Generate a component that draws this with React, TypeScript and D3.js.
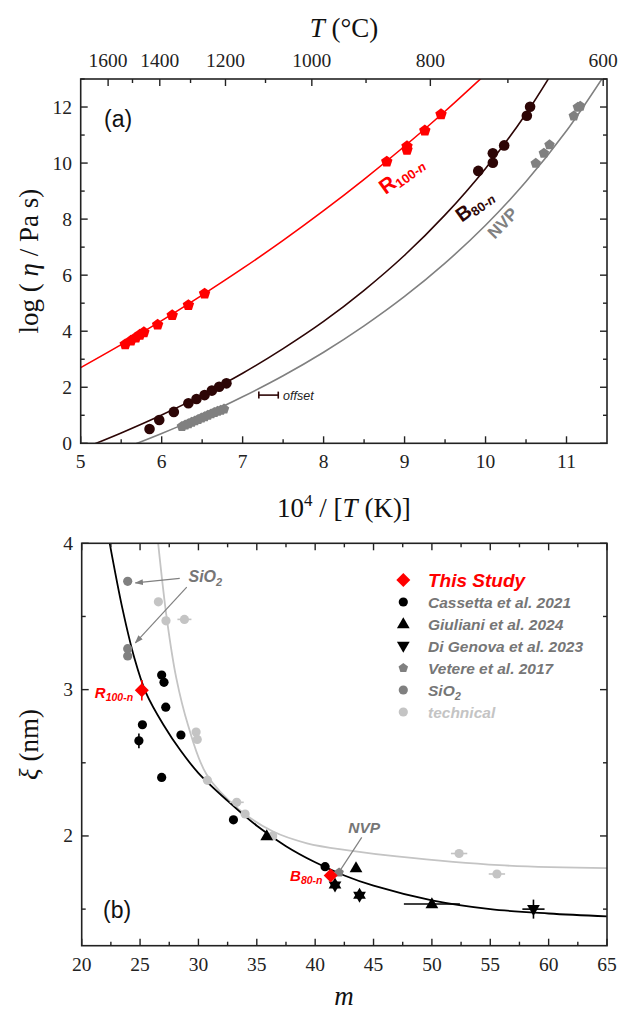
import React from 'react'
import * as d3 from 'd3'

// ---------- panel (a): log(eta) vs 10^4/T ----------
const redPts = [
  [5.55, 3.53], [5.62, 3.66], [5.68, 3.77], [5.73, 3.87], [5.78, 3.96],
  [5.95, 4.23], [6.13, 4.57], [6.33, 4.93], [6.53, 5.34],
  [8.78, 10.05], [9.03, 10.47], [9.03, 10.6], [9.25, 11.16], [9.45, 11.74],
]
const darkPts = [
  [5.85, 0.51], [5.97, 0.83], [6.15, 1.12], [6.33, 1.43], [6.43, 1.58],
  [6.53, 1.72], [6.62, 1.88], [6.71, 2.02], [6.8, 2.14],
  [9.91, 9.72], [10.09, 10.01], [10.09, 10.35], [10.23, 10.63], [10.51, 11.69], [10.55, 12.01],
]
const grayPts = [
  [6.25, 0.6], [6.29, 0.65], [6.33, 0.7], [6.37, 0.75], [6.41, 0.8], [6.45, 0.85], [6.49, 0.9],
  [6.53, 0.95], [6.57, 1.0], [6.61, 1.05], [6.65, 1.1], [6.69, 1.14], [6.73, 1.18], [6.77, 1.22],
  [10.62, 9.99], [10.72, 10.35], [10.79, 10.65], [11.09, 11.68], [11.14, 11.99], [11.17, 12.03],
]
// fitted curves
const redFit = [
  [5.0, 2.7], [5.5, 3.52], [6.0, 4.38], [6.5, 5.29], [7.0, 6.24], [7.5, 7.24], [8.0, 8.3],
  [8.5, 9.42], [9.0, 10.6], [9.5, 11.85], [10.0, 13.17],
]
const darkFit = [
  [5.0, -0.22], [5.5, 0.37], [6.0, 1.01], [6.5, 1.72], [7.0, 2.5], [7.5, 3.38], [8.0, 4.35],
  [8.5, 5.46], [9.0, 6.71], [9.5, 8.15], [10.0, 9.81], [10.5, 11.76], [11.0, 14.07],
]
const grayFit = [
  [5.5, -0.22], [6.0, 0.35], [6.5, 0.97], [7.0, 1.66], [7.5, 2.41], [8.0, 3.25], [8.5, 4.19],
  [9.0, 5.24], [9.5, 6.43], [10.0, 7.78], [10.5, 9.34], [11.0, 11.15], [11.5, 13.28],
]
const tempTicks = [1600, 1500, 1400, 1300, 1200, 1100, 1000, 900, 800, 700, 600]
const tempLabels = [1600, 1400, 1200, 1000, 800, 600]

// ---------- panel (b): xi vs m ----------
const studyPts = [[25.15, 2.995], [41.33, 1.73]]
const cassettaPts = [
  [26.85, 3.1], [27.05, 3.05], [27.2, 2.88], [25.2, 2.76], [24.9, 2.65],
  [28.5, 2.69], [26.85, 2.4], [33.0, 2.11], [40.85, 1.79],
]
const giulianiPts = [[35.85, 2.0], [41.7, 1.67], [43.5, 1.78], [43.8, 1.6], [50.0, 1.535]]
const diGenovaPts = [[41.7, 1.66], [43.8, 1.59], [58.7, 1.5]]
const veterePts = [[42.05, 1.75]]
const sio2Pts = [[23.94, 3.74], [23.94, 3.28], [23.94, 3.23]]
const technicalPts = [
  [26.57, 3.6], [27.22, 3.47], [28.8, 3.48], [29.8, 2.71], [29.9, 2.66], [30.77, 2.38],
  [33.28, 2.23], [34.0, 2.15], [36.36, 2.0], [52.33, 1.88], [55.57, 1.74],
]
// error bars: [m, xi, dm, dxi]
const errBars = [
  [25.15, 2.995, 0.3, 0.07], [24.9, 2.65, 0, 0.05], [50.0, 1.535, 2.4, 0],
  [58.7, 1.5, 0.95, 0.065], [28.8, 3.48, 0.6, 0], [33.28, 2.23, 0.6, 0],
  [52.33, 1.88, 0.7, 0], [55.57, 1.74, 0.7, 0],
]
const blackFit = [
  [22.4, 4.0], [23.5, 3.55], [24.5, 3.22], [25.5, 2.98], [27, 2.76], [28.5, 2.58], [30, 2.43],
  [32.5, 2.24], [35, 2.07], [37.5, 1.93], [40, 1.82], [42.5, 1.73], [45, 1.66], [50, 1.56],
  [55, 1.5], [60, 1.47], [65, 1.45],
]
const lightFit = [
  [26.55, 4.0], [27.3, 3.48], [28.1, 3.08], [29.1, 2.76], [30.7, 2.42], [33.5, 2.18],
  [36.4, 2.03], [39.3, 1.95], [43, 1.9], [47, 1.86], [55.8, 1.8], [65, 1.78],
]
const legendNames = ['This Study', 'Cassetta et al. 2021', 'Giuliani et al. 2024', 'Di Genova et al. 2023', 'Vetere et al. 2017', 'SiO', 'technical']

const RED = '#ff0000'
const DARK = '#2d0606'
const GRAY = '#808080'
const LIGHT = '#c4c4c4'
const TXTGRAY = '#767676'
const AX = '#222'
const SERIF = '"Liberation Serif", "Times New Roman", serif'
const SANS = '"Liberation Sans", Arial, sans-serif'

const aBox = { left: 80.7, right: 607, top: 79, bottom: 443.3 }
const bBox = { left: 81.7, right: 607, top: 543.3, bottom: 945.7 }

const xA = d3.scaleLinear().domain([5, 11.5]).range([aBox.left, aBox.right])
const yA = d3.scaleLinear().domain([0, 13]).range([aBox.bottom, aBox.top])
const xB = d3.scaleLinear().domain([20, 65]).range([bBox.left, bBox.right])
const yB = d3.scaleLinear().domain([1.25, 4]).range([bBox.bottom, bBox.top])

const pentagon = (r: number) =>
  'M' + d3.range(5).map((i) => {
    const a = -Math.PI / 2 + (i * 2 * Math.PI) / 5
    return [r * Math.cos(a), r * Math.sin(a)].join(',')
  }).join('L') + 'Z'
const triUp = (s: number) => `M0,${-s * 0.62}L${s * 0.58},${s * 0.38}L${-s * 0.58},${s * 0.38}Z`
const triDown = (s: number) => `M0,${s * 0.62}L${s * 0.58},${-s * 0.38}L${-s * 0.58},${-s * 0.38}Z`
const diamond = (r: number) => `M0,${-r}L${r},0L0,${r}L${-r},0Z`

const lineA = d3.line<number[]>().x((d) => xA(d[0])).y((d) => yA(d[1])).curve(d3.curveCatmullRom)
const lineB = d3.line<number[]>().x((d) => xB(d[0])).y((d) => yB(d[1])).curve(d3.curveCatmullRom)

const Frame = ({ box }: any) => (
  <rect x={box.left} y={box.top} width={box.right - box.left} height={box.bottom - box.top}
    fill="none" stroke={AX} strokeWidth={1.6} />
)

const App = () => {
  const xATicksMaj = d3.range(5, 11.01, 1)
  const xATicksMin = d3.range(5.5, 11.5, 1)
  const yATicksMaj = d3.range(0, 12.01, 2)
  const yATicksMin = d3.range(1, 13.01, 2)
  const tempX = (t: number) => xA(1e4 / (t + 273.15))

  const xBTicksMaj = d3.range(20, 65.01, 5)
  const xBTicksMin = d3.range(22.5, 65, 5)
  const yBTicksMaj = [2, 3, 4]
  const yBTicksMin = [1.5, 2.5, 3.5]

  const legX = 403.3
  const legY = (i: number) => 580 + i * 22

  return (
    <svg width={621} height={1011} style={{ position: 'absolute', left: 0, top: 0, background: '#fff' }}>
      <defs>
        <clipPath id="clipA"><rect x={aBox.left} y={aBox.top} width={aBox.right - aBox.left} height={aBox.bottom - aBox.top} /></clipPath>
        <clipPath id="clipB"><rect x={bBox.left} y={bBox.top} width={bBox.right - bBox.left} height={bBox.bottom - bBox.top} /></clipPath>
        <marker id="arr" viewBox="0 0 10 10" refX="9" refY="5" markerWidth="7" markerHeight="7" orient="auto">
          <path d="M0,1.5L10,5L0,8.5Z" fill={GRAY} />
        </marker>
      </defs>

      {/* ===== panel (a) ===== */}
      <g clipPath="url(#clipA)">
        <path d={lineA(redFit) as string} fill="none" stroke={RED} strokeWidth={1.6} />
        <path d={lineA(darkFit) as string} fill="none" stroke={DARK} strokeWidth={1.6} />
        <path d={lineA(grayFit) as string} fill="none" stroke={GRAY} strokeWidth={1.6} />
      </g>
      {grayPts.map((d, i) => (
        <path key={'g' + i} d={pentagon(5.5)} transform={`translate(${xA(d[0])},${yA(d[1])})`} fill={GRAY} />
      ))}
      {darkPts.map((d, i) => (
        <circle key={'d' + i} cx={xA(d[0])} cy={yA(d[1])} r={5.3} fill={DARK} />
      ))}
      {redPts.map((d, i) => (
        <path key={'r' + i} d={pentagon(6)} transform={`translate(${xA(d[0])},${yA(d[1])})`} fill={RED} />
      ))}

      {/* offset marker */}
      <g stroke={DARK} strokeWidth={1.6}>
        <line x1={xA(7.2)} x2={xA(7.44)} y1={yA(1.72)} y2={yA(1.72)} />
        <line x1={xA(7.2)} x2={xA(7.2)} y1={yA(1.72) - 3.5} y2={yA(1.72) + 3.5} />
        <line x1={xA(7.44)} x2={xA(7.44)} y1={yA(1.72) - 3.5} y2={yA(1.72) + 3.5} />
      </g>
      <text x={xA(7.5)} y={yA(1.72) + 4.5} fontFamily={SANS} fontStyle="italic" fontSize={12.5} fill="#222">offset</text>

      {/* curve labels */}
      <text transform={`translate(${xA(8.96)},${yA(9.58)}) rotate(-36)`} textAnchor="middle" fontFamily={SANS}
        fontWeight="bold" fontSize={21} fill={RED} dy={7}>
        R<tspan fontSize={13} dy={3}>100-<tspan fontStyle="italic">n</tspan></tspan>
      </text>
      <text transform={`translate(${xA(9.86)},${yA(8.5)}) rotate(-36)`} textAnchor="middle" fontFamily={SANS}
        fontWeight="bold" fontSize={20} fill={DARK} dy={7}>
        B<tspan fontSize={13} dy={3}>80-<tspan fontStyle="italic">n</tspan></tspan>
      </text>
      <text transform={`translate(${xA(10.21)},${yA(7.86)}) rotate(-46)`} textAnchor="middle" fontFamily={SANS}
        fontWeight="bold" fontSize={17} fill={GRAY} dy={6}>NVP</text>

      <text x={104} y={127} fontFamily={SANS} fontSize={23} fill="#111">(a)</text>

      <Frame box={aBox} />
      <g stroke={AX} strokeWidth={1.4}>
        {xATicksMaj.map((t) => <line key={'xa' + t} x1={xA(t)} x2={xA(t)} y1={aBox.bottom} y2={aBox.bottom - 7} />)}
        {xATicksMin.map((t) => <line key={'xam' + t} x1={xA(t)} x2={xA(t)} y1={aBox.bottom} y2={aBox.bottom - 4} />)}
        {yATicksMaj.map((t) => <line key={'ya' + t} x1={aBox.left} x2={aBox.left + 7} y1={yA(t)} y2={yA(t)} />)}
        {yATicksMin.map((t) => <line key={'yam' + t} x1={aBox.left} x2={aBox.left + 4} y1={yA(t)} y2={yA(t)} />)}
        {yATicksMaj.map((t) => <line key={'yar' + t} x1={aBox.right} x2={aBox.right - 7} y1={yA(t)} y2={yA(t)} />)}
        {yATicksMin.map((t) => <line key={'yarm' + t} x1={aBox.right} x2={aBox.right - 4} y1={yA(t)} y2={yA(t)} />)}
        {tempTicks.map((t) => (
          <line key={'tt' + t} x1={tempX(t)} x2={tempX(t)} y1={aBox.top}
            y2={aBox.top + (tempLabels.includes(t) ? 7 : 4)} />
        ))}
      </g>
      <g fontFamily={SERIF} fontSize={19.5} fill={AX}>
        {xATicksMaj.map((t) => <text key={'lxa' + t} x={xA(t)} y={468} textAnchor="middle">{t}</text>)}
        {yATicksMaj.map((t) => <text key={'lya' + t} x={72} y={yA(t) + 6.5} textAnchor="end">{t}</text>)}
        {tempLabels.map((t) => <text key={'lt' + t} x={tempX(t)} y={66.5} textAnchor="middle">{t}</text>)}
      </g>
      <text x={344} y={37} textAnchor="middle" fontFamily={SERIF} fontSize={27} fill="#111">
        <tspan fontStyle="italic">T</tspan> (°C)
      </text>
      <text x={344} y={517} textAnchor="middle" fontFamily={SERIF} fontSize={27} fill="#111">
        10<tspan fontSize={17} dy={-11}>4</tspan><tspan dy={11}> / [</tspan><tspan fontStyle="italic">T</tspan> (K)]
      </text>
      <text transform={`translate(38,${(aBox.top + aBox.bottom) / 2}) rotate(-90)`} textAnchor="middle"
        fontFamily={SERIF} fontSize={27} fill="#111">
        log ( <tspan fontStyle="italic">η</tspan> / Pa s)
      </text>

      {/* ===== panel (b) ===== */}
      <g clipPath="url(#clipB)">
        <path d={lineB(lightFit) as string} fill="none" stroke={LIGHT} strokeWidth={1.8} />
        <path d={lineB(blackFit) as string} fill="none" stroke="#000" strokeWidth={1.8} />
      </g>
      <g stroke="#000" strokeWidth={1.6}>
        {errBars.map((e, i) => (
          <g key={'e' + i} stroke={e[0] === 25.15 ? RED : (e[0] > 50 && e[0] < 56) || e[0] === 28.8 || e[0] === 33.28 ? LIGHT : '#000'}>
            {e[2] > 0 && <line x1={xB(e[0] - e[2])} x2={xB(e[0] + e[2])} y1={yB(e[1])} y2={yB(e[1])} />}
            {e[3] > 0 && <line x1={xB(e[0])} x2={xB(e[0])} y1={yB(e[1] - e[3])} y2={yB(e[1] + e[3])} />}
          </g>
        ))}
      </g>
      {technicalPts.map((d, i) => <circle key={'t' + i} cx={xB(d[0])} cy={yB(d[1])} r={4.6} fill={LIGHT} />)}
      {sio2Pts.map((d, i) => <circle key={'s' + i} cx={xB(d[0])} cy={yB(d[1])} r={4.6} fill={GRAY} />)}
      {cassettaPts.map((d, i) => <circle key={'c' + i} cx={xB(d[0])} cy={yB(d[1])} r={4.6} fill="#000" />)}
      {giulianiPts.map((d, i) => (
        <path key={'gu' + i} d={triUp(11)} transform={`translate(${xB(d[0])},${yB(d[1])})`} fill="#000" />
      ))}
      {diGenovaPts.map((d, i) => (
        <path key={'dg' + i} d={triDown(11)} transform={`translate(${xB(d[0])},${yB(d[1])})`} fill="#000" />
      ))}
      {veterePts.map((d, i) => (
        <path key={'v' + i} d={pentagon(5)} transform={`translate(${xB(d[0])},${yB(d[1])})`} fill={GRAY} />
      ))}
      {studyPts.map((d, i) => (
        <path key={'st' + i} d={diamond(7)} transform={`translate(${xB(d[0])},${yB(d[1])})`} fill={RED} />
      ))}

      {/* annotations */}
      <g stroke={GRAY} strokeWidth={1.2} fill="none">
        <line x1={xB(28.4)} y1={yB(3.76)} x2={xB(24.6)} y2={yB(3.73)} markerEnd="url(#arr)" />
        <line x1={xB(29.0)} y1={yB(3.7)} x2={xB(24.6)} y2={yB(3.32)} markerEnd="url(#arr)" />
        <line x1={xB(43.99)} y1={yB(1.99)} x2={xB(42.1)} y2={yB(1.76)} />
      </g>
      <text x={xB(29.15)} y={yB(3.735)} fontFamily={SANS} fontWeight="bold" fontStyle="italic" fontSize={16} fill={TXTGRAY}>
        SiO<tspan fontSize={11} dy={4}>2</tspan>
      </text>
      <text x={xB(44.2)} y={yB(2.02)} textAnchor="middle" fontFamily={SANS} fontWeight="bold" fontStyle="italic" fontSize={15.5} fill={TXTGRAY}>NVP</text>
      <text x={xB(24.4)} y={yB(2.945)} textAnchor="end" fontFamily={SANS} fontWeight="bold" fontStyle="italic" fontSize={15} fill={RED}>
        R<tspan fontSize={10.5} dy={3}>100-n</tspan>
      </text>
      <text x={xB(37.85)} y={yB(1.69)} fontFamily={SANS} fontWeight="bold" fontStyle="italic" fontSize={15} fill={RED}>
        B<tspan fontSize={10.5} dy={3}>80-n</tspan>
      </text>

      {/* legend */}
      <path d={diamond(7)} transform={`translate(${legX},${legY(0)})`} fill={RED} />
      <circle cx={legX} cy={legY(1)} r={4.6} fill="#000" />
      <path d={triUp(11)} transform={`translate(${legX},${legY(2)})`} fill="#000" />
      <path d={triDown(11)} transform={`translate(${legX},${legY(3)})`} fill="#000" />
      <path d={pentagon(5)} transform={`translate(${legX},${legY(4)})`} fill={GRAY} />
      <circle cx={legX} cy={legY(5)} r={4.6} fill={GRAY} />
      <circle cx={legX} cy={legY(6)} r={4.6} fill={LIGHT} />
      <g fontFamily={SANS} fontWeight="bold" fontStyle="italic">
        <text x={428} y={legY(0) + 7} fontSize={19} fill={RED}>{legendNames[0]}</text>
        {[1, 2, 3, 4].map((i) => (
          <text key={'lg' + i} x={428} y={legY(i) + 5.5} fontSize={15.5} fill={TXTGRAY}>{legendNames[i]}</text>
        ))}
        <text x={428} y={legY(5) + 5.5} fontSize={15.5} fill={TXTGRAY}>
          {legendNames[5]}<tspan fontSize={11} dy={4}>2</tspan>
        </text>
        <text x={428} y={legY(6) + 5.5} fontSize={15.5} fill={LIGHT}>{legendNames[6]}</text>
      </g>

      <text x={103} y={918} fontFamily={SANS} fontSize={23} fill="#111">(b)</text>

      <Frame box={bBox} />
      <g stroke={AX} strokeWidth={1.4}>
        {xBTicksMaj.map((t) => <line key={'xb' + t} x1={xB(t)} x2={xB(t)} y1={bBox.bottom} y2={bBox.bottom - 7} />)}
        {xBTicksMin.map((t) => <line key={'xbm' + t} x1={xB(t)} x2={xB(t)} y1={bBox.bottom} y2={bBox.bottom - 4} />)}
        {xBTicksMaj.map((t) => <line key={'xbt' + t} x1={xB(t)} x2={xB(t)} y1={bBox.top} y2={bBox.top + 7} />)}
        {xBTicksMin.map((t) => <line key={'xbtm' + t} x1={xB(t)} x2={xB(t)} y1={bBox.top} y2={bBox.top + 4} />)}
        {yBTicksMaj.map((t) => <line key={'yb' + t} x1={bBox.left} x2={bBox.left + 7} y1={yB(t)} y2={yB(t)} />)}
        {yBTicksMin.map((t) => <line key={'ybm' + t} x1={bBox.left} x2={bBox.left + 4} y1={yB(t)} y2={yB(t)} />)}
        {yBTicksMaj.map((t) => <line key={'ybr' + t} x1={bBox.right} x2={bBox.right - 7} y1={yB(t)} y2={yB(t)} />)}
        {yBTicksMin.map((t) => <line key={'ybrm' + t} x1={bBox.right} x2={bBox.right - 4} y1={yB(t)} y2={yB(t)} />)}
      </g>
      <g fontFamily={SERIF} fontSize={19.5} fill={AX}>
        {xBTicksMaj.map((t) => <text key={'lxb' + t} x={xB(t)} y={970.5} textAnchor="middle">{t}</text>)}
        {yBTicksMaj.map((t) => <text key={'lyb' + t} x={73} y={yB(t) + 6.5} textAnchor="end">{t}</text>)}
      </g>
      <text x={344} y={1005} textAnchor="middle" fontFamily={SERIF} fontStyle="italic" fontSize={27} fill="#111">m</text>
      <text transform={`translate(38,${(bBox.top + bBox.bottom) / 2}) rotate(-90)`} textAnchor="middle"
        fontFamily={SERIF} fontSize={27} fill="#111">
        <tspan fontStyle="italic">ξ</tspan> (nm)
      </text>
    </svg>
  )
}

export default App
